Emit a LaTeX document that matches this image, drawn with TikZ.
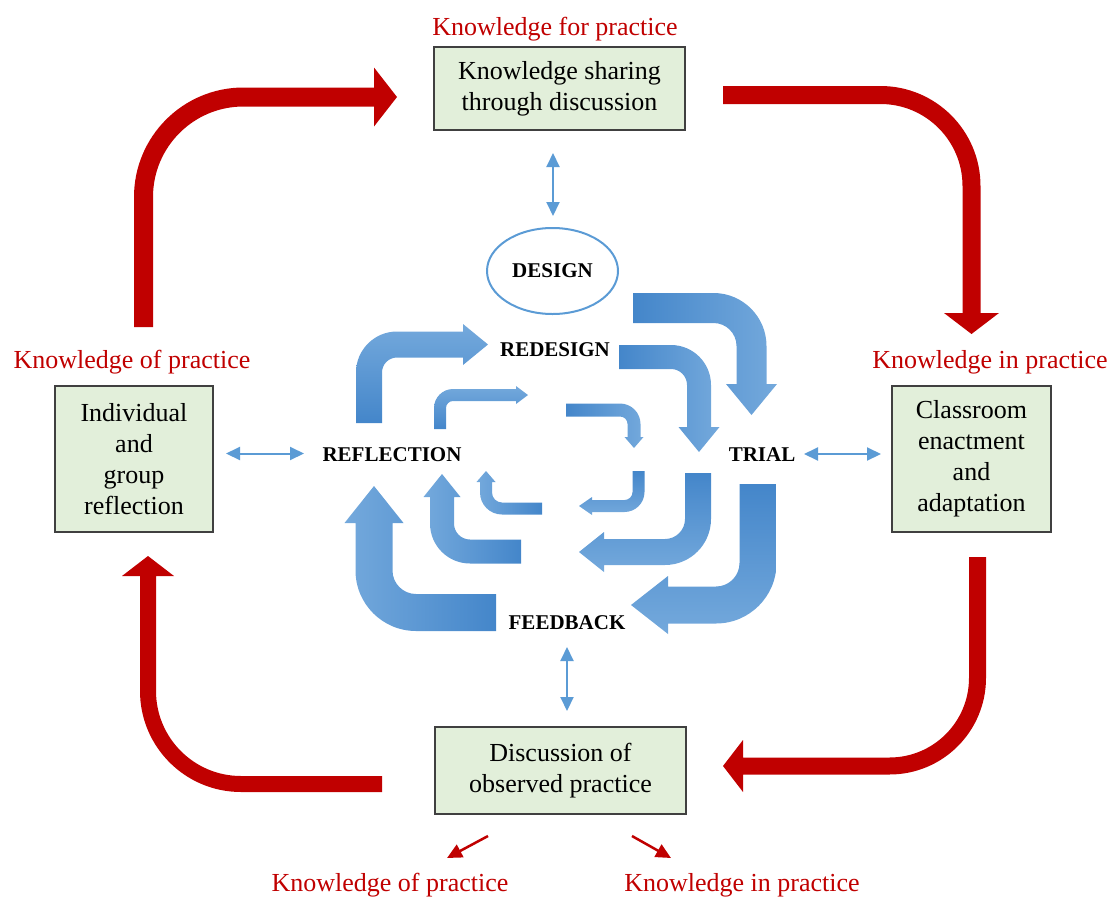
\documentclass[tikz,border=0pt]{standalone}
\usepackage{fontspec}
\setmainfont{Liberation Serif}
\usetikzlibrary{arrows.meta,shapes.geometric}
\definecolor{kred}{HTML}{C00000}
\definecolor{kblue}{HTML}{5B9BD5}
\definecolor{kdark}{HTML}{4486CA}
\definecolor{klight}{HTML}{74A9DC}
\definecolor{kgreen}{HTML}{E2EFDA}
\definecolor{kborder}{HTML}{404040}
\makeatletter
\def\ba@parse#1/#2/#3/#4\relax{\def\ba@h{#1}\def\ba@R{#2}\def\ba@H{#3}\def\ba@L{#4}}
\newcommand\bentarrow[8]{%
  \ba@parse#8\relax
  \pgfmathsetmacro\ba@ax{sign(#4-#2)}%
  \pgfmathsetmacro\ba@ay{sign(#5-#3)}%
  \pgfmathsetmacro\ba@bx{sign(#6-#4)}%
  \pgfmathsetmacro\ba@by{sign(#7-#5)}%
  \pgfmathsetmacro\ba@Ro{\ba@R+\ba@h}%
  \pgfmathsetmacro\ba@Ri{\ba@R-\ba@h}%
  \pgfmathsetmacro\ba@Px{#2-\ba@h*(\ba@bx)}%
  \pgfmathsetmacro\ba@Py{#3-\ba@h*(\ba@by)}%
  \pgfmathsetmacro\ba@Qx{#2+\ba@h*(\ba@bx)}%
  \pgfmathsetmacro\ba@Qy{#3+\ba@h*(\ba@by)}%
  \pgfmathsetmacro\ba@OCx{#4-\ba@h*(\ba@bx)+\ba@h*(\ba@ax)}%
  \pgfmathsetmacro\ba@OCy{#5-\ba@h*(\ba@by)+\ba@h*(\ba@ay)}%
  \pgfmathsetmacro\ba@Oax{\ba@OCx-\ba@Ro*(\ba@ax)}%
  \pgfmathsetmacro\ba@Oay{\ba@OCy-\ba@Ro*(\ba@ay)}%
  \pgfmathsetmacro\ba@Oacx{\ba@OCx-0.4477*\ba@Ro*(\ba@ax)}%
  \pgfmathsetmacro\ba@Oacy{\ba@OCy-0.4477*\ba@Ro*(\ba@ay)}%
  \pgfmathsetmacro\ba@Obx{\ba@OCx+\ba@Ro*(\ba@bx)}%
  \pgfmathsetmacro\ba@Oby{\ba@OCy+\ba@Ro*(\ba@by)}%
  \pgfmathsetmacro\ba@Obcx{\ba@OCx+0.4477*\ba@Ro*(\ba@bx)}%
  \pgfmathsetmacro\ba@Obcy{\ba@OCy+0.4477*\ba@Ro*(\ba@by)}%
  \pgfmathsetmacro\ba@Bx{#6-\ba@L*(\ba@bx)}%
  \pgfmathsetmacro\ba@By{#7-\ba@L*(\ba@by)}%
  \pgfmathsetmacro\ba@Box{\ba@Bx+\ba@h*(\ba@ax)}%
  \pgfmathsetmacro\ba@Boy{\ba@By+\ba@h*(\ba@ay)}%
  \pgfmathsetmacro\ba@Wox{\ba@Bx+\ba@H*(\ba@ax)}%
  \pgfmathsetmacro\ba@Woy{\ba@By+\ba@H*(\ba@ay)}%
  \pgfmathsetmacro\ba@Wix{\ba@Bx-\ba@H*(\ba@ax)}%
  \pgfmathsetmacro\ba@Wiy{\ba@By-\ba@H*(\ba@ay)}%
  \pgfmathsetmacro\ba@Bix{\ba@Bx-\ba@h*(\ba@ax)}%
  \pgfmathsetmacro\ba@Biy{\ba@By-\ba@h*(\ba@ay)}%
  \pgfmathsetmacro\ba@ICx{#4+\ba@h*(\ba@bx)-\ba@h*(\ba@ax)}%
  \pgfmathsetmacro\ba@ICy{#5+\ba@h*(\ba@by)-\ba@h*(\ba@ay)}%
  \pgfmathsetmacro\ba@Ibx{\ba@ICx+\ba@Ri*(\ba@bx)}%
  \pgfmathsetmacro\ba@Iby{\ba@ICy+\ba@Ri*(\ba@by)}%
  \pgfmathsetmacro\ba@Ibcx{\ba@ICx+0.4477*\ba@Ri*(\ba@bx)}%
  \pgfmathsetmacro\ba@Ibcy{\ba@ICy+0.4477*\ba@Ri*(\ba@by)}%
  \pgfmathsetmacro\ba@Iax{\ba@ICx-\ba@Ri*(\ba@ax)}%
  \pgfmathsetmacro\ba@Iay{\ba@ICy-\ba@Ri*(\ba@ay)}%
  \pgfmathsetmacro\ba@Iacx{\ba@ICx-0.4477*\ba@Ri*(\ba@ax)}%
  \pgfmathsetmacro\ba@Iacy{\ba@ICy-0.4477*\ba@Ri*(\ba@ay)}%
  \path[#1] (\ba@Px,\ba@Py) -- (\ba@Oax,\ba@Oay)
    .. controls (\ba@Oacx,\ba@Oacy) and (\ba@Obcx,\ba@Obcy) .. (\ba@Obx,\ba@Oby)
    -- (\ba@Box,\ba@Boy) -- (\ba@Wox,\ba@Woy) -- (#6,#7) -- (\ba@Wix,\ba@Wiy) -- (\ba@Bix,\ba@Biy)
    -- (\ba@Ibx,\ba@Iby)
    .. controls (\ba@Ibcx,\ba@Ibcy) and (\ba@Iacx,\ba@Iacy) .. (\ba@Iax,\ba@Iay)
    -- (\ba@Qx,\ba@Qy) -- cycle;%
}
\makeatother
\tikzset{
  box/.style={draw=kborder, line width=1.3pt, fill=kgreen, inner sep=0pt, align=center,
    font=\fontsize{26}{31}\selectfont},
  redlabel/.style={anchor=base, text=kred, inner sep=0pt, font=\fontsize{26}{31}\selectfont},
  phase/.style={anchor=base, inner sep=0pt, font=\bfseries\fontsize{21}{25}\selectfont},
  redarrow/.style={fill=kred},
  bR/.style={shade, left color=kdark, right color=klight},
  bL/.style={shade, left color=klight, right color=kdark},
  bD/.style={shade, top color=kdark, bottom color=klight},
  bU/.style={shade, top color=klight, bottom color=kdark},
  dbl/.style={draw=kblue, line width=2pt,
    {Triangle[length=14pt,width=13pt]}-{Triangle[length=14pt,width=13pt]}},
  smallred/.style={draw=kred, line width=2.5pt, -{Triangle[length=15pt,width=14pt]}}
}
\begin{document}
\begin{tikzpicture}[x=1pt,y=-1pt]
\useasboundingbox (0,0) rectangle (1111,897);
% red outer arrows
\bentarrow{redarrow}{143.5}{327}{143.5}{97}{397}{97}{9.5/100/29.5/23}
\bentarrow{redarrow}{723}{95}{971.5}{95}{971.5}{334}{9/91/27.5/21}
\bentarrow{redarrow}{977.5}{557}{977.5}{766}{723}{766}{8.5/88/26/20}
\bentarrow{redarrow}{382}{784}{148}{784}{148}{556}{8/93/26/20}
% blue cycle arrows
\bentarrow{bU}{369}{423}{369}{344.5}{488}{344.5}{13/28/20.5/25}
\bentarrow{bR}{633}{308}{751.5}{308}{751.5}{415}{15/38/25.5/31}
\bentarrow{bR}{619}{357}{699}{357}{699}{452}{12/28/20.5/25}
\bentarrow{bR}{566}{410}{634}{410}{634}{448}{6.5/14/9.5/11}
\bentarrow{bU}{440}{429}{440}{395}{528}{395}{6/13/9/12}
\bentarrow{bD}{638.5}{471}{638.5}{506}{579}{506}{6/14/9/13}
\bentarrow{bL}{542}{508.5}{486}{508.5}{486}{471}{6/16/9.5/11}
\bentarrow{bD}{698}{473}{698}{552}{579}{552}{13/33/20/25}
\bentarrow{bL}{521}{551.5}{442}{551.5}{442}{474}{12/28/18.5/23}
\bentarrow{bD}{758}{484}{758}{605}{631}{605}{18.5/42/29/37}
\bentarrow{bL}{496}{612.5}{374}{612.5}{374}{486}{18.5/42/29.5/37}
% boxes
\node[box, minimum width=251pt, minimum height=83pt] (share) at (559.5,88.5) {Knowledge sharing\\through discussion};
\node[box, minimum width=158pt, minimum height=146pt] (indiv) at (134,459) {Individual\\and\\group\\reflection};
\node[box, minimum width=159pt, minimum height=146pt] (class) at (971.5,459) {Classroom\\enactment\\and\\adaptation};
\node[box, minimum width=251pt, minimum height=87pt] (obs) at (560.5,770.5) {Discussion of\\observed practice};
% red labels
\node[redlabel] (kfor) at (555,35) {Knowledge for practice};
\node[redlabel] (kofl) at (132,368) {Knowledge of practice};
\node[redlabel] (kinr) at (990,368) {Knowledge in practice};
\node[redlabel] (kofb) at (390,891) {Knowledge of practice};
\node[redlabel] (kinb) at (742,891) {Knowledge in practice};
% phase labels
\node[draw=kblue, line width=2pt, ellipse, minimum width=131pt, minimum height=86pt, inner sep=0pt,
  font=\bfseries\fontsize{21}{25}\selectfont] (design) at (552.5,271) {DESIGN};
\node[phase] (redesign) at (555,356) {REDESIGN};
\node[phase] (reflection) at (392,461) {REFLECTION};
\node[phase] (trial) at (762,461) {TRIAL};
\node[phase] (feedback) at (567,629) {FEEDBACK};
% double arrows
\coordinate (a1) at (553,153); \coordinate (a2) at (553,216);
\coordinate (b1) at (226,453.5); \coordinate (b2) at (304,453.5);
\coordinate (c1) at (804,454); \coordinate (c2) at (881,454);
\coordinate (d1) at (567,647); \coordinate (d2) at (567,711);
\draw[dbl] (a1) -- (a2);
\draw[dbl] (b1) -- (b2);
\draw[dbl] (c1) -- (c2);
\draw[dbl] (d1) -- (d2);
% small red arrows
\coordinate (e1) at (488,836); \coordinate (e2) at (447,858);
\coordinate (f1) at (632,836); \coordinate (f2) at (671,858);
\draw[smallred] (e1) -- (e2);
\draw[smallred] (f1) -- (f2);
\end{tikzpicture}
\end{document}
